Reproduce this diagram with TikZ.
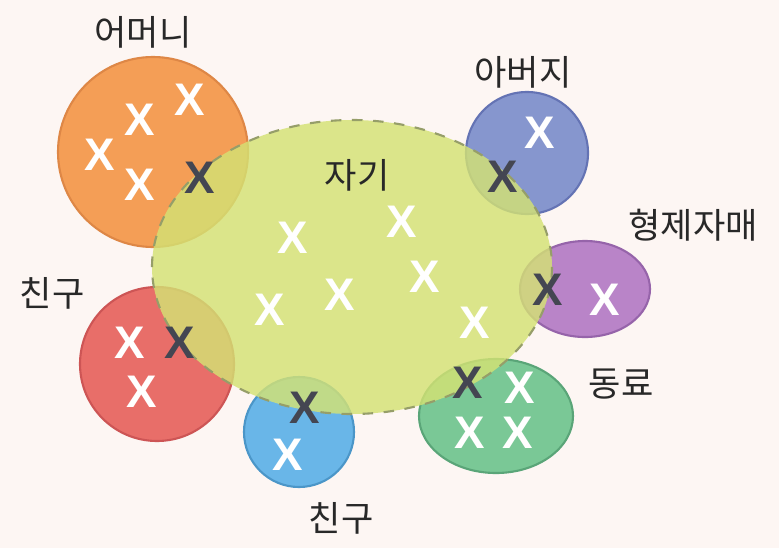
\documentclass[tikz,border=0pt]{standalone}
\usepackage{fontspec}
\setmainfont{Noto Sans CJK KR}
\newfontfamily\markfont{Liberation Sans}

\definecolor{paper}{RGB}{253,246,243}
\definecolor{labelgray}{RGB}{40,40,40}
\definecolor{markgray}{RGB}{68,70,82}
\definecolor{momfill}{RGB}{244,158,86}
\definecolor{momline}{RGB}{222,135,70}
\definecolor{dadfill}{RGB}{134,150,206}
\definecolor{dadline}{RGB}{100,115,180}
\definecolor{sibfill}{RGB}{185,132,200}
\definecolor{sibline}{RGB}{150,100,170}
\definecolor{frdfill}{RGB}{232,110,105}
\definecolor{frdline}{RGB}{205,85,85}
\definecolor{palfill}{RGB}{105,182,232}
\definecolor{palline}{RGB}{75,150,200}
\definecolor{colfill}{RGB}{122,200,150}
\definecolor{colline}{RGB}{90,165,120}
\definecolor{selffill}{RGB}{212,226,116}
\definecolor{selfline}{RGB}{150,158,105}

\tikzset{
  member/.style={font=\markfont\bfseries\fontsize{13}{13}\selectfont, text=white, inner sep=0pt},
  shared/.style={member, text=markgray},
  tag/.style={font=\fontsize{10}{12}\selectfont, text=labelgray, inner sep=0pt},
  group/.style={line width=0.6pt}
}

\begin{document}
\begin{tikzpicture}[x=0.1mm,y=-0.1mm]

      % Page
      \fill[paper] (0,0) rectangle (779,548);
      \useasboundingbox (0,0) rectangle (779,548);

      % Others
      \filldraw[group, fill=momfill, draw=momline] (153,152) circle [radius=95];
      \filldraw[group, fill=dadfill, draw=dadline] (527,153) circle [radius=61];
      \filldraw[group, fill=sibfill, draw=sibline] (585,289) ellipse [x radius=65, y radius=48];
      \filldraw[group, fill=frdfill, draw=frdline] (157,364) circle [radius=77];
      \filldraw[group, fill=palfill, draw=palline] (299,432) circle [radius=55];
      \filldraw[group, fill=colfill, draw=colline] (496,416) ellipse [x radius=77, y radius=57];

      % Self
      \filldraw[group, fill=selffill, fill opacity=0.82, draw=selfline, dashed] (352,267) ellipse [x radius=200, y radius=147];

      % Labels
      \node[tag] (mother) at (143,32) {어머니};
      \node[tag] (father) at (523,72) {아버지};
      \node[tag] (siblings) at (693,225) {형제자매};
      \node[tag] (friend1) at (52,293) {친구};
      \node[tag] (friend2) at (341,518) {친구};
      \node[tag] (coworker) at (621,384) {동료};
      \node[tag] (self) at (357,175) {자기};

      % Members
      \foreach \px/\py [count=\i] in {100/155,140/120,190/100,140/185}
        \node[member] (mom\i) at (\px,\py) {X};
      \foreach \px/\py [count=\i] in {293/238,402/222,425/277,340/295,270/310,475/323}
        \node[member] (self\i) at (\px,\py) {X};
      \node[member] (dad1) at (540,133) {X};
      \node[member] (sib1) at (605,300) {X};
      \foreach \px/\py [count=\i] in {130/343,142/392}
        \node[member] (frd\i) at (\px,\py) {X};
      \node[member] (pal1) at (288,455) {X};
      \foreach \px/\py [count=\i] in {520/388,470/433,518/433}
        \node[member] (col\i) at (\px,\py) {X};

      % Shared members
      \node[shared] (momself) at (200,178) {X};
      \node[shared] (dadself) at (503,177) {X};
      \node[shared] (sibself) at (548,290) {X};
      \node[shared] (frdself) at (180,343) {X};
      \node[shared] (palself) at (305,408) {X};
      \node[shared] (colself) at (468,383) {X};

    \end{tikzpicture}
\end{document}
